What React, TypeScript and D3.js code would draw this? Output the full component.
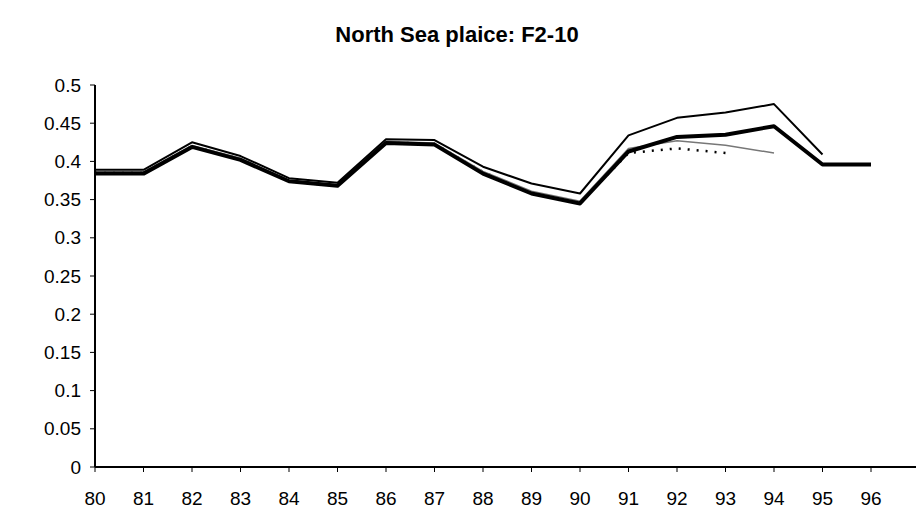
import React from "react";
import * as d3 from "d3";

// years on the x axis
const years = [80, 81, 82, 83, 84, 85, 86, 87, 88, 89, 90, 91, 92, 93, 94, 95, 96];
const yTicks = [0, 0.05, 0.1, 0.15, 0.2, 0.25, 0.3, 0.35, 0.4, 0.45, 0.5];

// retrospective runs, each ending one year earlier
const run96 = [0.384, 0.384, 0.419, 0.402, 0.374, 0.368, 0.424, 0.422, 0.384, 0.358, 0.345, 0.413, 0.432, 0.435, 0.446, 0.396, 0.396];
const run95 = [0.389, 0.389, 0.425, 0.407, 0.378, 0.372, 0.429, 0.428, 0.393, 0.371, 0.358, 0.434, 0.457, 0.464, 0.475, 0.409];
const run94 = [0.386, 0.386, 0.421, 0.404, 0.375, 0.369, 0.426, 0.424, 0.387, 0.361, 0.348, 0.417, 0.427, 0.421, 0.411];
const run93 = [0.385, 0.385, 0.420, 0.403, 0.374, 0.368, 0.425, 0.423, 0.386, 0.359, 0.346, 0.411, 0.417, 0.411];

const series = [
  { values: run93, color: "#000", width: 2.5, dash: "2,7" },
  { values: run94, color: "#777", width: 1.5, dash: null },
  { values: run95, color: "#000", width: 2, dash: null },
  { values: run96, color: "#000", width: 4, dash: null },
];

const W = 916;
const H = 516;
const FONT = "'Liberation Sans', Arial, sans-serif";

export default function App() {
  const x = d3.scaleLinear().domain([80, 97]).range([95, 919.5]);
  const y = d3.scaleLinear().domain([0, 0.5]).range([467, 85]);

  const line = d3
    .line<number>()
    .x((_, i) => x(years[i]))
    .y((d) => y(d));

  return (
    <svg
      width={W}
      height={H}
      style={{ position: "absolute", left: 0, top: 0, background: "#fff" }}
      fontFamily={FONT}
    >
      <text x={457} y={42} textAnchor="middle" fontSize={22} fontWeight="bold">
        North Sea plaice: F2-10
      </text>

      {series.map((s, k) => (
        <path
          key={k}
          d={line(s.values) ?? ""}
          fill="none"
          stroke={s.color}
          strokeWidth={s.width}
          strokeDasharray={s.dash ?? undefined}
          strokeLinejoin="round"
        />
      ))}

      {/* y axis */}
      <line x1={x(80)} x2={x(80)} y1={y(0.5)} y2={y(0)} stroke="#000" strokeWidth={2} />
      {yTicks.map((t) => (
        <g key={t}>
          <line x1={x(80) - 5} x2={x(80)} y1={y(t)} y2={y(t)} stroke="#000" strokeWidth={1} />
          <text x={81} y={y(t)} dy="0.35em" textAnchor="end" fontSize={19}>
            {String(t)}
          </text>
        </g>
      ))}

      {/* x axis */}
      <line x1={x(80)} x2={W} y1={y(0)} y2={y(0)} stroke="#000" strokeWidth={2} />
      {years.map((yr) => (
        <g key={yr}>
          <line x1={x(yr)} x2={x(yr)} y1={y(0)} y2={y(0) + 5} stroke="#000" strokeWidth={1} />
          <text x={x(yr)} y={505} textAnchor="middle" fontSize={19}>
            {yr}
          </text>
        </g>
      ))}
    </svg>
  );
}
